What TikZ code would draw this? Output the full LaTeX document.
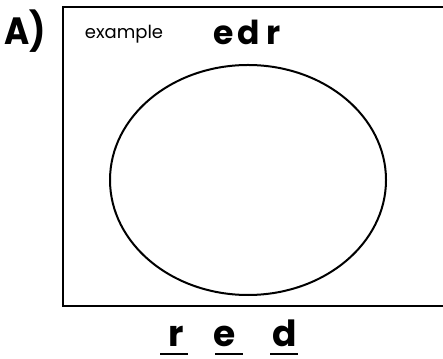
\documentclass[tikz,border=0pt]{standalone}
\usepackage{fontspec}
\setmainfont{Poppins}
\usetikzlibrary{calc}

\begin{document}
\begin{tikzpicture}[x=1pt, y=1pt,
    letra/.style={anchor=base, inner sep=0pt, font=\fontsize{36}{38}\selectfont\bfseries},
    raya/.style={line width=2.2pt}]
        \useasboundingbox (0,0) rectangle (443,358);
        % marco abierto a la derecha
        \draw[line width=2pt] (443,351) -- (63,351) -- (63,52) -- (443,52);
        \draw[line width=2pt] (248,178) ellipse [x radius=138, y radius=115];
        \node[font=\fontsize{38}{40}\selectfont\bfseries, inner sep=0pt, xscale=0.9] (titulo) at (25,327) {A)};
        \node[anchor=base, inner sep=0pt, font=\fontsize{18}{20}\selectfont] (ejemplo) at (124,319) {example};
        \node[anchor=base, inner sep=0pt, font=\fontsize{33}{35}\selectfont\bfseries] (mezcla) at (247,313) {e\hspace{4pt}d\hspace{6pt}r};
        % respuesta
        \foreach \n/\x/\t in {r1/176/r, e1/225/e, d1/285/d} {
          \node[letra] (\n) at (\x,12) {\t};
        }
        \foreach \n/\dx in {r1/-2, e1/4, d1/-1} {
          \draw[raya] ($(\n.base)+(\dx-14,-8)$) -- ++(28,0);
        }
      \end{tikzpicture}
\end{document}
